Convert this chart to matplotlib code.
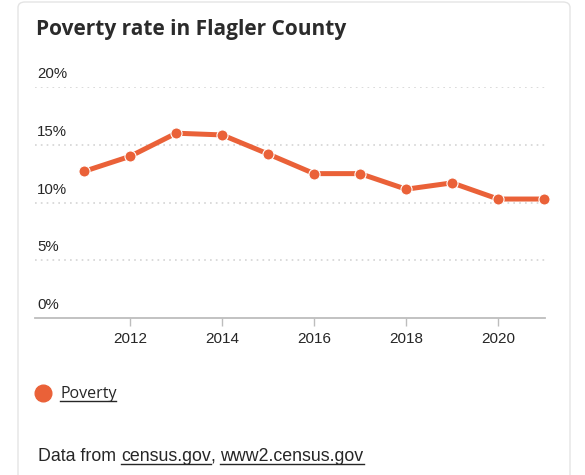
import matplotlib
matplotlib.use("Agg")
import matplotlib.pyplot as plt
from matplotlib.patches import FancyBboxPatch
from matplotlib.lines import Line2D

years = [2011, 2012, 2013, 2014, 2015, 2016, 2017, 2018, 2019, 2020, 2021]
poverty = [12.7, 14.0, 16.0, 15.85, 14.2, 12.5, 12.5, 11.15, 11.7, 10.3, 10.3]
y_ticks = [0, 5, 10, 15, 20]
x_ticks = [2012, 2014, 2016, 2018, 2020]

ORANGE = "#ea6138"
GRID = "#d4d4d4"
TEXT = "#262626"
W, H = 585, 475

fig = plt.figure(figsize=(W / 100, H / 100), dpi=100)
fig.patch.set_facecolor("white")


def px(x, y):
    # pixel coords measured from top-left -> figure fraction
    return x / W, 1 - y / H


# card outline
card = FancyBboxPatch(px(18, 520), (570 - 18) / W, (520 - 2) / H,
                      boxstyle="round,pad=0,rounding_size=0.012",
                      transform=fig.transFigure, facecolor="none",
                      edgecolor="#e4e4e4", linewidth=1.0)
fig.patches.append(card)

# plot area
left, bottom = px(35, 318)
right, top = px(545, 87)
ax = fig.add_axes([left, bottom, right - left, top - bottom])
ax.set_xlim(2009.93, 2021.02)
ax.set_ylim(0, 20)

for v in y_ticks:
    if v > 0:
        ax.axhline(v, color=GRID, linestyle=(0, (1, 2.5)), linewidth=1.2,
                   zorder=1)
    ax.text(0.004, v + 0.5, f"{v}%", transform=ax.get_yaxis_transform(),
            ha="left", va="bottom", fontsize=10.8, color=TEXT,
            family="Liberation Sans")

ax.plot(years, poverty, color=ORANGE, linewidth=3.6, marker="o",
        markersize=8, markerfacecolor=ORANGE, markeredgecolor="white",
        markeredgewidth=0.8, zorder=3, clip_on=False,
        solid_capstyle="butt")

for s in ["left", "right", "top"]:
    ax.spines[s].set_visible(False)
ax.spines["bottom"].set_color("#bdbdbd")
ax.spines["bottom"].set_linewidth(1.3)
ax.set_yticks([])
ax.set_xticks(x_ticks)
ax.set_xticklabels([str(t) for t in x_ticks], family="Liberation Sans",
                   fontsize=11, color=TEXT)
ax.tick_params(axis="x", length=6, width=1, color="#bdbdbd", pad=4)
ax.set_facecolor("none")

# title
fig.text(*px(36, 29), "Poverty rate in Flagler County", fontsize=15,
         fontweight="bold", color="#2b2b2b", family="Open Sans", va="center")

# legend
fig.add_artist(Line2D([43 / W], [1 - 393 / H], marker="o", markersize=12,
                      color=ORANGE, linestyle="none",
                      transform=fig.transFigure))

renderer = fig.canvas.get_renderer()


def underlined(x, y, s, size, family, color=TEXT, underline=True):
    t = fig.text(x / W, 1 - y / H, s, fontsize=size, family=family,
                 color=color, va="baseline")
    bb = t.get_window_extent(renderer)
    if underline:
        uy = (H - y) - 2.5
        fig.add_artist(Line2D([bb.x0 / W, bb.x1 / W], [uy / H, uy / H],
                              color=color, linewidth=1.0,
                              transform=fig.transFigure))
    return bb.x1


underlined(60, 398, "Poverty", 11.5, "Open Sans")

x = 38
for piece, ul in [("Data from ", False), ("census.gov", True), (", ", False),
                  ("www2.census.gov", True)]:
    x = underlined(x, 461, piece, 12.8, "Liberation Sans", underline=ul)

fig.savefig("out.png", dpi=100, facecolor="white")
